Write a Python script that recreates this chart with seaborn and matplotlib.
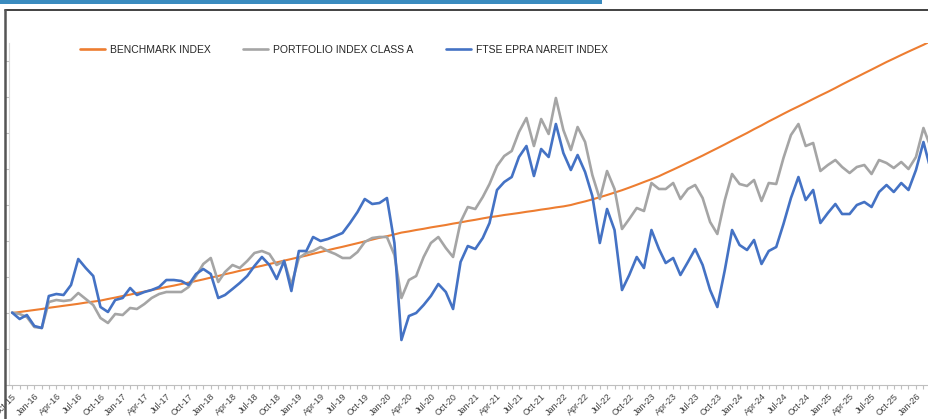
import matplotlib
matplotlib.use("Agg")
import matplotlib.pyplot as plt
import matplotlib.dates as mdates
from matplotlib.patches import Rectangle
from matplotlib.lines import Line2D
import numpy as np
import pandas as pd
import seaborn as sns

# monthly values, Oct-15 .. Mar-26 (index, start = 100)
months = pd.date_range("2015-10-01", "2026-03-01", freq="MS")

benchmark = [
    100.0, 100.5, 101.0, 101.5, 102.0, 102.6, 103.1, 103.6, 104.1, 104.6,
    105.2, 105.7, 106.2, 107.0, 107.7, 108.5, 109.2, 110.0, 110.7, 111.5,
    112.2, 113.0, 113.7, 114.5, 115.2, 116.0, 116.8, 117.7, 118.5, 119.4,
    120.2, 121.1, 121.9, 122.8, 123.6, 124.5, 125.3, 126.2, 127.0, 127.9,
    128.7, 129.6, 130.5, 131.4, 132.3, 133.1, 134.0, 134.9, 135.8, 136.7,
    137.6, 138.4, 139.3, 140.2, 140.8, 141.5, 142.1, 142.8, 143.4, 144.0,
    144.7, 145.3, 146.0, 146.6, 147.3, 147.9, 148.4, 149.0, 149.5, 150.0,
    150.6, 151.1, 151.7, 152.2, 152.8, 153.3, 154.0, 154.9, 155.8, 156.8,
    157.9, 159.0, 160.2, 161.4, 162.7, 164.1, 165.5, 166.9, 168.4, 170.0,
    171.7, 173.4, 175.2, 176.9, 178.7, 180.6, 182.4, 184.3, 186.2, 188.1,
    190.0, 191.9, 193.8, 195.8, 197.7, 199.6, 201.5, 203.3, 205.1, 207.0,
    208.8, 210.6, 212.5, 214.3, 216.2, 218.0, 219.9, 221.7, 223.6, 225.5,
    227.2, 229.0, 230.7, 232.4, 234.1, 235.8,
]

portfolio = [
    100.2, 99.5, 98.0, 93.0, 92.5, 105.5, 106.5, 106.0, 106.5, 110.0,
    107.0, 104.0, 97.5, 95.0, 99.5, 99.0, 102.5, 102.0, 104.5, 107.5,
    109.5, 110.5, 110.5, 110.5, 113.0, 118.5, 124.5, 127.5, 115.5, 120.5,
    124.0, 122.5, 126.0, 130.0, 131.0, 129.5, 124.0, 126.0, 114.0, 127.5,
    130.0, 131.0, 133.0, 131.0, 129.5, 127.5, 127.5, 130.5, 135.5, 137.5,
    138.0, 138.0, 129.0, 107.5, 116.5, 118.5, 128.0, 135.0, 138.0, 132.5,
    128.0, 145.5, 153.0, 152.0, 158.0, 164.5, 173.5, 178.5, 181.0, 190.5,
    197.5, 183.5, 197.0, 189.5, 207.5, 191.5, 181.5, 193.0, 185.5, 169.0,
    157.0, 171.0, 162.0, 142.0, 147.0, 152.5, 151.0, 165.0, 162.0, 162.0,
    165.0, 157.0, 162.0, 164.0, 157.5, 145.5, 139.5, 156.5, 169.5, 164.5,
    163.5, 166.5, 156.0, 165.0, 164.5, 177.5, 189.0, 194.5, 183.5, 185.0,
    171.0, 174.0, 176.5, 173.0, 170.0, 173.0, 174.0, 169.5, 176.5, 175.0,
    172.5, 175.5, 172.0, 178.0, 192.5, 183.5,
]

ftse = [
    100.2, 97.0, 99.0, 93.5, 92.5, 108.5, 109.5, 109.0, 114.0, 127.0,
    122.5, 118.5, 103.0, 100.5, 106.5, 107.5, 112.5, 109.0, 110.5, 111.5,
    113.0, 116.5, 116.5, 116.0, 114.0, 119.5, 122.0, 119.5, 107.5, 109.0,
    112.0, 115.0, 118.5, 123.5, 128.0, 124.0, 117.0, 126.0, 111.0, 131.0,
    131.0, 138.0, 136.0, 137.0, 138.5, 140.0, 145.0, 150.5, 157.0, 154.5,
    155.0, 157.5, 135.0, 86.5, 98.5, 100.0, 104.0, 108.5, 114.5, 110.5,
    102.0, 125.5, 133.5, 132.0, 137.5, 145.0, 161.5, 165.5, 168.0, 178.0,
    183.5, 168.5, 182.0, 178.0, 194.5, 180.0, 171.5, 179.0, 170.5, 158.5,
    135.0, 152.0, 141.5, 111.5, 119.0, 128.0, 122.5, 141.5, 132.0, 125.0,
    127.5, 119.0, 125.5, 132.0, 124.0, 111.5, 103.0, 121.5, 141.5, 134.0,
    131.5, 136.5, 124.5, 131.0, 133.0, 144.5, 157.5, 168.0, 156.5, 161.5,
    145.0, 150.0, 154.5, 149.5, 149.5, 154.0, 155.5, 153.0, 160.5, 164.0,
    160.5, 165.0, 161.5, 171.5, 185.5, 172.5,
]

series_names = ["BENCHMARK INDEX", "PORTFOLIO INDEX CLASS A", "FTSE EPRA NAREIT INDEX"]
series_colors = ["#ED7D31", "#A5A5A5", "#4472C4"]

df = pd.DataFrame({
    "Date": list(months) * 3,
    "Value": benchmark + portfolio + ftse,
    "Series": np.repeat(series_names, len(months)),
})

sns.set_style("white")
plt.rcParams["font.family"] = ["Liberation Sans", "DejaVu Sans"]

fig = plt.figure(figsize=(9.29, 4.19), dpi=100)
ax = fig.add_axes([9 / 929, 1 - 385 / 419, 1 - 9 / 929, (385 - 43) / 419])

sns.lineplot(data=df, x="Date", y="Value", hue="Series", hue_order=series_names,
             palette=series_colors, linewidth=1.8, ax=ax, legend=False)
for ln, w in zip(ax.get_lines(), [1.5, 1.9, 1.9]):
    ln.set_linewidth(w)
    ln.set_solid_capstyle("round")

ax.set_xlim(pd.Timestamp("2015-09-18"), pd.Timestamp("2026-02-24"))
ax.set_ylim(64, 235)
ax.set_yticks(np.arange(64, 236, 18))
ax.set_yticklabels([])
ax.set_xlabel("")
ax.set_ylabel("")

ax.xaxis.set_major_locator(mdates.MonthLocator(bymonth=[1, 4, 7, 10]))
ax.xaxis.set_major_formatter(mdates.DateFormatter("%b-%y"))
ax.xaxis.set_minor_locator(mdates.MonthLocator())
plt.setp(ax.get_xticklabels(), rotation=45, ha="right", rotation_mode="anchor",
         fontsize=6.5, color="#404040")
ax.tick_params(axis="x", which="both", bottom=True, direction="out", length=3,
               width=0.8, color="#BFBFBF", pad=2)
ax.tick_params(axis="y", which="both", left=True, direction="out", length=3,
               width=0.8, color="#BFBFBF")

for side in ["top", "right"]:
    ax.spines[side].set_visible(False)
ax.spines["left"].set_color("#D9D9D9")
ax.spines["bottom"].set_color("#BFBFBF")
ax.spines["left"].set_linewidth(0.8)
ax.spines["bottom"].set_linewidth(0.8)

handles = [Line2D([0], [0], color=c, lw=1.9) for c in series_colors]
fig.legend(handles, series_names, loc="center left",
           bbox_to_anchor=(80 / 929, 1 - 50 / 419), ncol=3, frameon=False,
           fontsize=7.5, handlelength=2.4, handletextpad=0.5, columnspacing=3.1,
           borderpad=0, borderaxespad=0, labelcolor="#262626")

# outer frame and header strip
fig.add_artist(Rectangle((0, 1 - 4.5 / 419), 602 / 929, 4.5 / 419,
                         transform=fig.transFigure, color="#3A8BBF", lw=0))
fig.add_artist(Line2D([5 / 929, 1], [1 - 10.5 / 419, 1 - 10.5 / 419],
                      transform=fig.transFigure, color="#333333", lw=1.3))
fig.add_artist(Line2D([5 / 929, 5 / 929], [0, 1 - 10.5 / 419],
                      transform=fig.transFigure, color="#555555", lw=1.8))

fig.savefig("out.png", dpi=100)
